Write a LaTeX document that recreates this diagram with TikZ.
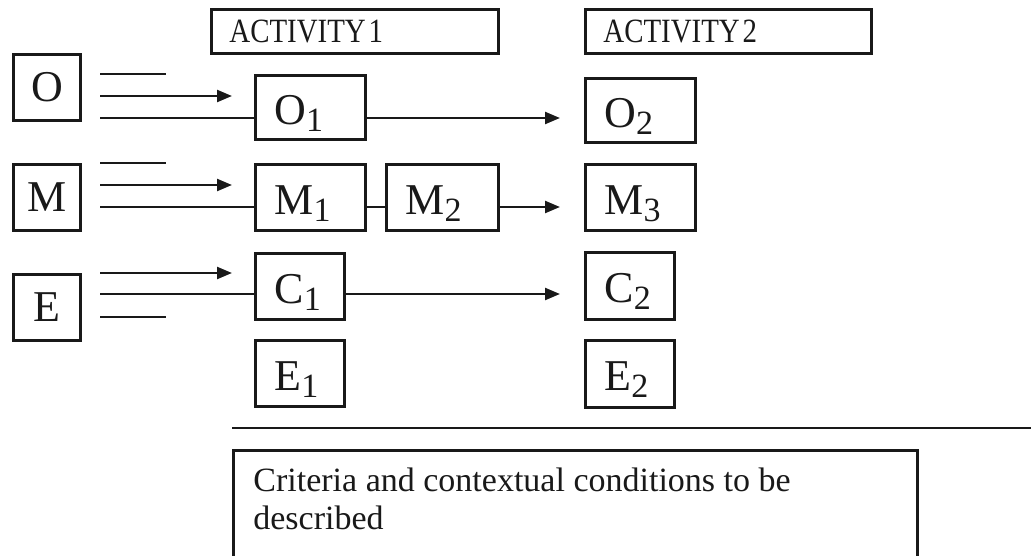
\documentclass[tikz,border=0pt]{standalone}
\usepackage{fontspec}
\setmainfont{Liberation Serif}
\usetikzlibrary{arrows.meta}
\definecolor{ink}{RGB}{25,25,25}
\newcommand\subn[1]{\raisebox{-7pt}{\fontsize{34}{34}\selectfont #1}}
\newcommand\acttext[1]{\scalebox{0.85}[1]{\fontsize{34}{34}\selectfont #1}}
\begin{document}
\begin{tikzpicture}[x=1pt,y=-1pt,
  line width=2.4pt, draw=ink, color=ink,
  sq/.style={draw=ink, line width=2.8pt, anchor=north west, inner sep=0pt,
    font=\fontsize{44}{44}\selectfont},
  bx/.style={draw=ink, line width=2.8pt, anchor=north west, inner xsep=19pt, inner ysep=0pt,
    align=left, text height=34pt, text depth=0pt, font=\fontsize{44}{44}\selectfont},
  act/.style={draw=ink, line width=2.8pt, anchor=north west, inner xsep=18pt, inner ysep=0pt,
    minimum height=44pt, align=left, text height=23pt, text depth=1pt},
  link/.style={line width=2.4pt, draw=ink},
  arr/.style={line width=2.4pt, draw=ink, -{Triangle[length=15pt,width=12pt]}}
]
\clip (0,0) rectangle (1031,556);
\fill[white] (0,0) rectangle (1031,556);

% header boxes
\node[act, text width=251pt] (A1) at (210,8) {\acttext{ACTIVITY 1}};
\node[act, text width=250pt] (A2) at (584,8) {\acttext{ACTIVITY 2}};

% source boxes
\node[sq, minimum width=67pt, minimum height=66pt] (O) at (12,53) {O};
\node[sq, minimum width=67pt, minimum height=66pt] (M) at (12,163) {M};
\node[sq, minimum width=67pt, minimum height=66pt] (E) at (12,273) {E};

% activity 1
\node[bx, text width=72pt, minimum height=64pt] (O1) at (254,74) {O\subn{1}};
\node[bx, text width=72pt, minimum height=66pt] (M1) at (254,163) {M\subn{1}};
\node[bx, text width=74pt, minimum height=66pt] (M2) at (385,163) {M\subn{2}};
\node[bx, text width=51pt, minimum height=66pt] (C1) at (254,252) {C\subn{1}};
\node[bx, text width=51pt, minimum height=66pt] (E1) at (254,339) {E\subn{1}};

% activity 2
\node[bx, text width=72pt, minimum height=64pt] (O2) at (584,77) {O\subn{2}};
\node[bx, text width=72pt, minimum height=66pt] (M3) at (584,163) {M\subn{3}};
\node[bx, text width=51pt, minimum height=67pt] (C2) at (584,251) {C\subn{2}};
\node[bx, text width=51pt, minimum height=67pt] (E2) at (584,339) {E\subn{2}};

% criteria
\coordinate (L1) at (232,428);
\coordinate (L2) at (1031,428);
\draw[line width=2.8pt] (L1) -- (L2);
\node[draw=ink, line width=2.8pt, anchor=north west, inner xsep=20pt, inner ysep=18pt,
  font=\fontsize{34}{38}\selectfont] (CR) at (232,449)
  {\parbox[c][120pt][t]{644pt}{\raggedright Criteria and contextual conditions to be\\ described}};

% O stubs
\coordinate (oa1) at (100,74);  \coordinate (oa2) at (166,74);
\coordinate (ob1) at (100,96);  \coordinate (ob2) at (232,96);
\coordinate (oc1) at (100,118);
\draw[link] (oa1) -- (oa2);
\draw[arr] (ob1) -- (ob2);
\draw[link] (oc1) -- (oc1 -| O1.west);
\draw[arr, shorten >=24pt] (O1.east |- oc1) -- (O2.west |- oc1);

% M stubs
\coordinate (ma1) at (100,163); \coordinate (ma2) at (166,163);
\coordinate (mb1) at (100,185); \coordinate (mb2) at (232,185);
\coordinate (mc1) at (100,207);
\draw[link] (ma1) -- (ma2);
\draw[arr] (mb1) -- (mb2);
\draw[link] (mc1) -- (mc1 -| M1.west);
\draw[link] (M1.east |- mc1) -- (M2.west |- mc1);
\draw[arr, shorten >=24pt] (M2.east |- mc1) -- (M3.west |- mc1);

% E stubs
\coordinate (ea1) at (100,273); \coordinate (ea2) at (232,273);
\coordinate (eb1) at (100,294);
\coordinate (ec1) at (100,317); \coordinate (ec2) at (166,317);
\draw[arr] (ea1) -- (ea2);
\draw[link] (eb1) -- (eb1 -| C1.west);
\draw[arr, shorten >=24pt] (C1.east |- eb1) -- (C2.west |- eb1);
\draw[link] (ec1) -- (ec2);
\end{tikzpicture}
\end{document}
